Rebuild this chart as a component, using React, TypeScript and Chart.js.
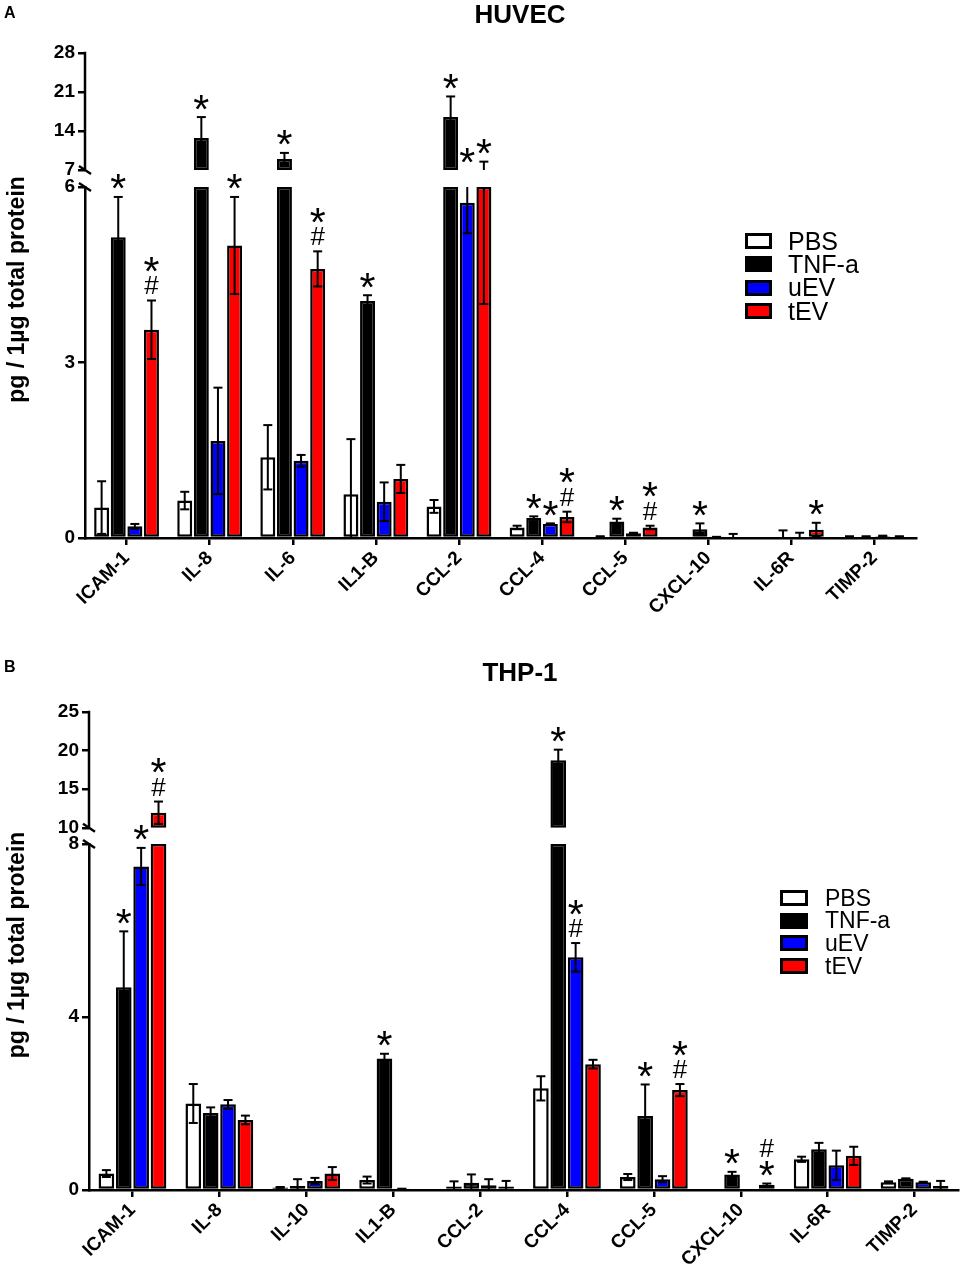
import React, { useEffect, useRef } from 'react';
import { Chart, registerables } from 'chart.js';

Chart.register(...registerables);

const FONT = '"Liberation Sans", Arial, Helvetica, sans-serif';

const SERIES = ['PBS', 'TNF-a', 'uEV', 'tEV'];
const SERIES_COLORS = ['#ffffff', '#000000', '#0000ff', '#ff0000'];
const Y_TITLE = 'pg / 1\u00b5g total protein';

// ---------- Panel A: HUVEC ----------
const TITLE_A = 'HUVEC';
const CATEGORIES_A = ['ICAM-1', 'IL-8', 'IL-6', 'IL1-B', 'CCL-2', 'CCL-4', 'CCL-5', 'CXCL-10', 'IL-6R', 'TIMP-2'];
const A_PBS = [0.52, 0.64, 1.38, 0.75, 0.54, 0.18, 0.02, 0, 0, 0.02];
const A_PBS_ERR = [0.45, 0.15, 0.55, 0.94, 0.11, 0.03, 0.01, 0, 0, 0.01];
const A_TNF = [5.14, 12.75, 8.97, 4.05, 16.5, 0.34, 0.28, 0.15, 0, 0.02];
const A_TNF_ERR = [0.69, 3.75, 1.1, 0.1, 3.7, 0.03, 0.05, 0.1, 0.13, 0.01];
const A_UEV = [0.2, 1.66, 1.32, 0.62, 5.73, 0.24, 0.08, 0.01, 0, 0.03];
const A_UEV_ERR = [0.04, 0.91, 0.1, 0.33, 0.52, 0.01, 0.01, 0.01, 0.09, 0.01];
const A_TEV = [3.56, 5.0, 4.6, 1.01, 6.25, 0.36, 0.18, 0.02, 0.14, 0.02];
const A_TEV_ERR = [0.5, 0.83, 0.3, 0.24, 2.25, 0.09, 0.03, 0.05, 0.12, 0.01];
const A_PBS_MARKS = ['', '', '', '', '', '', '', '', '', ''];
const A_TNF_MARKS = ['*', '*', '*', '*', '*', '*', '*', '*', '', ''];
const A_UEV_MARKS = ['', '', '', '', '*', '*', '', '', '', ''];
const A_TEV_MARKS = ['*#', '*', '*#', '', '*', '*#', '*#', '', '*', ''];
const A_TICKS_LOW = [0, 3, 6];
const A_TICKS_HIGH = [7, 14, 21, 28];

// ---------- Panel B: THP-1 ----------
const TITLE_B = 'THP-1';
const CATEGORIES_B = ['ICAM-1', 'IL-8', 'IL-10', 'IL1-B', 'CCL-2', 'CCL-4', 'CCL-5', 'CXCL-10', 'IL-6R', 'TIMP-2'];
const B_PBS = [0.38, 2.0, 0.06, 0.23, 0.08, 2.35, 0.3, 0, 0.71, 0.18];
const B_PBS_ERR = [0.08, 0.45, 0.01, 0.08, 0.12, 0.28, 0.07, 0, 0.06, 0.02];
const B_TNF = [4.69, 1.78, 0.09, 3.04, 0.17, 18.75, 1.71, 0.36, 0.94, 0.26];
const B_TNF_ERR = [1.29, 0.13, 0.16, 0.11, 0.19, 1.37, 0.73, 0.06, 0.15, 0.01];
const B_UEV = [7.48, 1.98, 0.21, 0.02, 0.11, 5.38, 0.25, 0, 0.57, 0.18];
const B_UEV_ERR = [0.43, 0.1, 0.07, 0.01, 0.14, 0.33, 0.07, 0, 0.34, 0.01];
const B_TEV = [11.95, 1.62, 0.38, 0, 0.08, 2.91, 2.31, 0.12, 0.79, 0.09];
const B_TEV_ERR = [1.45, 0.1, 0.15, 0, 0.13, 0.1, 0.14, 0.03, 0.21, 0.12];
const B_PBS_MARKS = ['', '', '', '', '', '', '', '', '', ''];
const B_TNF_MARKS = ['*', '', '', '*', '', '*', '*', '*', '', ''];
const B_UEV_MARKS = ['*', '', '', '', '', '*#', '', '', '', ''];
const B_TEV_MARKS = ['*#', '', '', '', '', '', '*#', '#*', '', ''];
const B_TICKS_LOW = [0, 4, 8];
const B_TICKS_HIGH = [10, 15, 20, 25];

type PanelDef = {
  letter: string;
  title: string;
  categories: string[];
  values: number[][];
  errors: number[][];
  marks: string[][];
  lowTicks: number[];
  highTicks: number[];
  highMin: number;
  top: number;
  width: number;
  height: number;
  padTop: number;
  padRight: number;
  yAxisWidth: number;
  xAxisHeight: number;
  highWeight: number;
  lowWeight: number;
  titleTop: number;
  letterTop: number;
  legendLeft: number;
  legendTop: number;
  legendStep: number;
  legendBoxW: number;
  legendBoxH: number;
  legendTextLeft: number;
  legendFont: number;
};

const PANEL_A: PanelDef = {
  letter: 'A',
  title: TITLE_A,
  categories: CATEGORIES_A,
  values: [A_PBS, A_TNF, A_UEV, A_TEV],
  errors: [A_PBS_ERR, A_TNF_ERR, A_UEV_ERR, A_TEV_ERR],
  marks: [A_PBS_MARKS, A_TNF_MARKS, A_UEV_MARKS, A_TEV_MARKS],
  lowTicks: A_TICKS_LOW,
  highTicks: A_TICKS_HIGH,
  highMin: 3.95,
  top: 0,
  width: 965,
  height: 620,
  padTop: 53,
  padRight: 49,
  yAxisWidth: 85,
  xAxisHeight: 82,
  highWeight: 134,
  lowWeight: 351,
  titleTop: 1,
  letterTop: 5,
  legendLeft: 745,
  legendTop: 233,
  legendStep: 23.3,
  legendBoxW: 27,
  legendBoxH: 16,
  legendTextLeft: 788,
  legendFont: 25,
};

const PANEL_B: PanelDef = {
  letter: 'B',
  title: TITLE_B,
  categories: CATEGORIES_B,
  values: [B_PBS, B_TNF, B_UEV, B_TEV],
  errors: [B_PBS_ERR, B_TNF_ERR, B_UEV_ERR, B_TEV_ERR],
  marks: [B_PBS_MARKS, B_TNF_MARKS, B_UEV_MARKS, B_TEV_MARKS],
  lowTicks: B_TICKS_LOW,
  highTicks: B_TICKS_HIGH,
  highMin: 7.9,
  top: 620,
  width: 965,
  height: 648,
  padTop: 92,
  padRight: 7,
  yAxisWidth: 89,
  xAxisHeight: 78,
  highWeight: 132,
  lowWeight: 346,
  titleTop: 39,
  letterTop: 39,
  legendLeft: 780,
  legendTop: 270,
  legendStep: 22.7,
  legendBoxW: 28,
  legendBoxH: 16,
  legendTextLeft: 825,
  legendFont: 23,
};

const STAR_FONT = `41px ${FONT}`;
const HASH_FONT = `26px ${FONT}`;

function overlayPlugin(d: PanelDef) {
  return {
    id: 'overlay' + d.letter,
    afterDraw(chart: any) {
      const ctx: CanvasRenderingContext2D = chart.ctx;
      const yLow = chart.scales.yLow;
      const yHigh = chart.scales.yHigh;
      const area = chart.chartArea;
      const lowMax = d.lowTicks[d.lowTicks.length - 1];
      const breakHi = d.highTicks[0];
      const highMax = d.highTicks[d.highTicks.length - 1];
      const line = (x1: number, y1: number, x2: number, y2: number) => {
        ctx.beginPath();
        ctx.moveTo(x1, y1);
        ctx.lineTo(x2, y2);
        ctx.stroke();
      };
      ctx.save();
      ctx.strokeStyle = '#000';
      ctx.fillStyle = '#000';

      // upper axis segment + break marks
      const ax = yLow.right;
      ctx.lineWidth = 2.5;
      const yb1 = yHigh.getPixelForValue(breakHi);
      const yb2 = yLow.getPixelForValue(lowMax);
      line(ax, yHigh.getPixelForValue(highMax) - 1.25, ax, yb1);
      line(ax - 6, yb1 - 4, ax + 6, yb1 + 4);
      line(ax - 6, yb2 - 4, ax + 6, yb2 + 4);

      // error bars
      const CAP = 4.5;
      ctx.lineWidth = 2;
      d.values.forEach((vals, s) => {
        const meta = chart.getDatasetMeta(s * 2);
        vals.forEach((v, i) => {
          const e = d.errors[s][i];
          const el = meta.data[i];
          if (!el || !e) return;
          const x = el.x;
          const lo = Math.max(v - e, 0);
          const hi = v + e;
          if (lo < lowMax) {
            const pLo = yLow.getPixelForValue(lo);
            const pHi = yLow.getPixelForValue(Math.min(hi, lowMax));
            line(x, pLo, x, pHi);
            if (lo > 0) line(x - CAP, pLo, x + CAP, pLo);
            if (hi <= lowMax) line(x - CAP, pHi, x + CAP, pHi);
          }
          if (hi > breakHi) {
            const a = Math.max(lo, breakHi);
            const pA = yHigh.getPixelForValue(a);
            const pHi = yHigh.getPixelForValue(hi);
            line(x, pA, x, pHi);
            line(x - CAP, pHi, x + CAP, pHi);
            if (lo >= breakHi) line(x - CAP, pA, x + CAP, pA);
          }
        });
      });

      // significance marks
      ctx.textAlign = 'center';
      const FIRST = 15;
      const STEP = 21;
      const drawSym = (ch: string, x: number, yc: number) => {
        ctx.font = ch === '*' ? STAR_FONT : HASH_FONT;
        const m = ctx.measureText(ch);
        const asc = m.actualBoundingBoxAscent;
        const desc = m.actualBoundingBoxDescent;
        ctx.fillText(ch, x, yc + (asc - desc) / 2);
      };
      d.marks.forEach((row, s) => {
        const meta = chart.getDatasetMeta(s * 2);
        row.forEach((mk, i) => {
          if (!mk) return;
          const el = meta.data[i];
          if (!el) return;
          const top = d.values[s][i] + d.errors[s][i];
          const anchor = top <= lowMax
            ? yLow.getPixelForValue(top)
            : top < breakHi
              ? yHigh.getPixelForValue(breakHi)
              : yHigh.getPixelForValue(top);
          let yc = anchor - FIRST;
          const chars = mk.split('');
          for (let k = chars.length - 1; k >= 0; k--) {
            drawSym(chars[k], el.x, yc);
            yc -= STEP;
          }
        });
      });

      // y axis title
      ctx.font = `bold 23px ${FONT}`;
      ctx.textAlign = 'center';
      ctx.textBaseline = 'middle';
      ctx.translate(18, (area.top + area.bottom) / 2 - 6);
      ctx.rotate(-Math.PI / 2);
      ctx.fillText(Y_TITLE, 0, 0);
      ctx.restore();
    },
  };
}

function buildConfig(d: PanelDef): any {
  const lowMax = d.lowTicks[d.lowTicks.length - 1];
  const breakHi = d.highTicks[0];
  const highMax = d.highTicks[d.highTicks.length - 1];
  const datasets: any[] = [];
  d.values.forEach((vals, s) => {
    const common = {
      backgroundColor: SERIES_COLORS[s],
      borderColor: '#000000',
      borderWidth: 2.5,
      borderSkipped: false,
      stack: SERIES[s],
      categoryPercentage: 0.8,
      barPercentage: 0.9,
    };
    datasets.push({ ...common, label: SERIES[s], yAxisID: 'yLow', data: vals.map((v) => Math.min(v, lowMax)) });
    datasets.push({
      ...common,
      label: SERIES[s] + ' (above break)',
      yAxisID: 'yHigh',
      data: vals.map((v) => (v > breakHi ? [breakHi, v] : null)),
    });
  });
  const tickFont = { family: FONT, size: 19, weight: 'bold' };
  const axisGrid = {
    display: true,
    drawOnChartArea: false,
    drawTicks: true,
    tickLength: 7,
    tickWidth: 2.5,
    tickColor: '#000',
    color: '#000',
    lineWidth: 2.5,
  };
  const yTicks = { color: '#000', font: tickFont, padding: 3, autoSkip: false };
  return {
    type: 'bar',
    data: { labels: d.categories, datasets },
    options: {
      responsive: false,
      maintainAspectRatio: false,
      animation: false,
      events: [],
      layout: { padding: { top: d.padTop, right: d.padRight, left: 0, bottom: 0 } },
      plugins: { legend: { display: false }, tooltip: { enabled: false }, title: { display: false } },
      scales: {
        x: {
          type: 'category',
          stacked: true,
          offset: true,
          grid: { ...axisGrid, offset: false },
          border: { display: true, color: '#000', width: 2.5 },
          ticks: {
            color: '#000',
            font: { family: FONT, size: 19, weight: 'bold' },
            minRotation: 45,
            maxRotation: 45,
            autoSkip: false,
            padding: 2,
          },
          afterFit: (s: any) => {
            s.height = d.xAxisHeight;
          },
        },
        yHigh: {
          type: 'linear',
          position: 'left',
          stack: 'value',
          stackWeight: d.highWeight,
          weight: 1,
          stacked: false,
          min: d.highMin,
          max: highMax,
          afterBuildTicks: (s: any) => {
            s.ticks = d.highTicks.map((value) => ({ value }));
          },
          grid: axisGrid,
          border: { display: false },
          ticks: yTicks,
          afterFit: (s: any) => {
            s.width = d.yAxisWidth;
          },
        },
        yLow: {
          type: 'linear',
          position: 'left',
          stack: 'value',
          stackWeight: d.lowWeight,
          weight: 0,
          stacked: false,
          min: 0,
          max: lowMax,
          afterBuildTicks: (s: any) => {
            s.ticks = d.lowTicks.map((value) => ({ value }));
          },
          grid: axisGrid,
          border: { display: true, color: '#000', width: 2.5 },
          ticks: yTicks,
          afterFit: (s: any) => {
            s.width = d.yAxisWidth;
          },
        },
      },
    },
    plugins: [overlayPlugin(d)],
  };
}

function Panel({ d }: { d: PanelDef }) {
  const ref = useRef<HTMLCanvasElement>(null);
  useEffect(() => {
    if (!ref.current) return;
    const chart = new Chart(ref.current, buildConfig(d));
    return () => chart.destroy();
  }, [d]);
  const f = d.legendFont;
  return (
    <div style={{ position: 'absolute', left: 0, top: d.top, width: d.width, height: d.height }}>
      <canvas
        ref={ref}
        width={d.width}
        height={d.height}
        style={{ display: 'block', width: d.width, height: d.height }}
      />
      <div
        style={{
          position: 'absolute',
          left: 4,
          top: d.letterTop,
          font: `bold 16px/16px ${FONT}`,
          color: '#000',
        }}
      >
        {d.letter}
      </div>
      <div
        style={{
          position: 'absolute',
          left: 520,
          top: d.titleTop,
          transform: 'translateX(-50%)',
          font: `bold 26px/26px ${FONT}`,
          color: '#000',
          whiteSpace: 'nowrap',
        }}
      >
        {d.title}
      </div>
      {SERIES.map((name, k) => {
        const boxTop = d.legendTop + k * d.legendStep;
        return (
          <React.Fragment key={name}>
            <div
              style={{
                position: 'absolute',
                left: d.legendLeft,
                top: boxTop,
                width: d.legendBoxW,
                height: d.legendBoxH,
                boxSizing: 'border-box',
                border: '3px solid #000',
                background: SERIES_COLORS[k],
              }}
            />
            <div
              style={{
                position: 'absolute',
                left: d.legendTextLeft,
                top: boxTop + d.legendBoxH / 2 - 0.4885 * f,
                font: `${f}px/${f}px ${FONT}`,
                color: '#000',
                whiteSpace: 'nowrap',
              }}
            >
              {name}
            </div>
          </React.Fragment>
        );
      })}
    </div>
  );
}

export default function App() {
  return (
    <div
      style={{
        position: 'absolute',
        left: 0,
        top: 0,
        width: 965,
        height: 1268,
        background: '#fff',
        overflow: 'hidden',
      }}
    >
      <Panel d={PANEL_A} />
      <Panel d={PANEL_B} />
    </div>
  );
}
